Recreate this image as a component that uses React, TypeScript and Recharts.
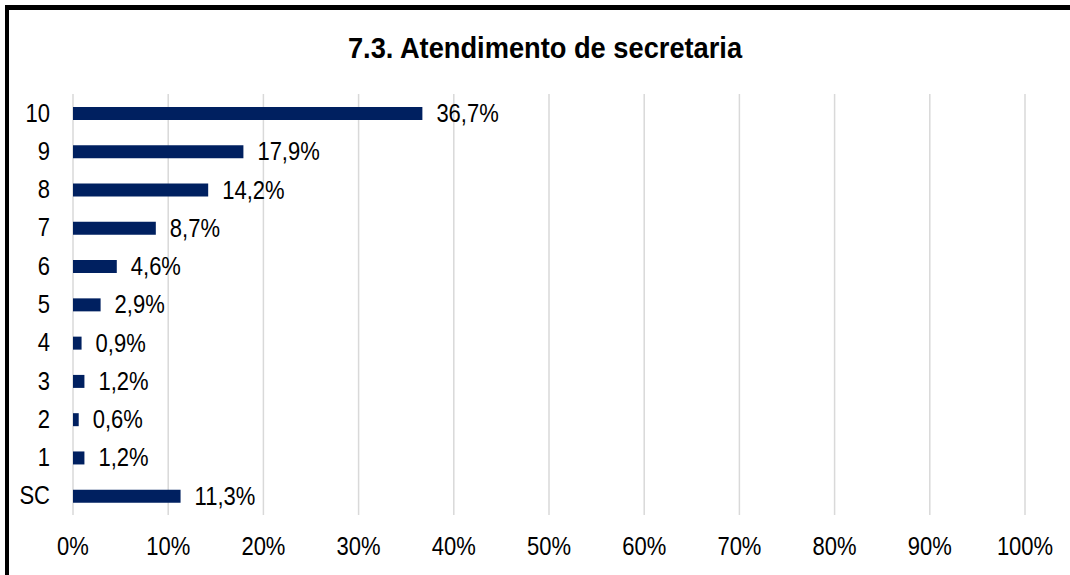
import React from 'react';
import { BarChart, Bar, XAxis, YAxis, CartesianGrid, LabelList } from 'recharts';

const categories = ['10', '9', '8', '7', '6', '5', '4', '3', '2', '1', 'SC'];
const shares = [36.7, 17.9, 14.2, 8.7, 4.6, 2.9, 0.9, 1.2, 0.6, 1.2, 11.3];
const xTicks = [0, 10, 20, 30, 40, 50, 60, 70, 80, 90, 100];

// Arial Narrow look-alike: Liberation Sans squeezed horizontally
const FONT = '"Liberation Sans", Arial, sans-serif';
const SQUEEZE = 0.88;
const NAVY = '#002060';

const data = categories.map((name, i) => ({ name, value: shares[i] }));

const fmt = (v: number) => v.toFixed(1).replace('.', ',') + '%';

const NarrowText = ({ x, y, anchor, children }: any) => (
  <text
    transform={`translate(${x},${y}) scale(${SQUEEZE},1)`}
    textAnchor={anchor}
    dominantBaseline="central"
    fontSize={25}
    fill="#000"
    fontFamily={FONT}
  >
    {children}
  </text>
);

const YTick = (props: any) => {
  const { x, y, payload } = props;
  return (
    <NarrowText x={x - 15} y={y} anchor="end">
      {payload.value}
    </NarrowText>
  );
};

const XTick = (props: any) => {
  const { x, y, payload } = props;
  return (
    <NarrowText x={x} y={y + 24} anchor="middle">
      {payload.value + '%'}
    </NarrowText>
  );
};

const BarLabel = (props: any) => {
  const { x, y, width, height, value } = props;
  return (
    <NarrowText x={x + width + 14} y={y + height / 2} anchor="start">
      {fmt(Number(value))}
    </NarrowText>
  );
};

const App: React.FC = () => {
  return (
    <div style={{ position: 'absolute', left: 0, top: 0, width: 1070, height: 575, background: '#fff', overflow: 'hidden' }}>
      <div
        style={{
          position: 'absolute',
          left: 5,
          top: 5,
          width: 1100,
          height: 600,
          borderTop: '5px solid #000',
          borderLeft: '4px solid #000',
          boxSizing: 'border-box',
        }}
      />
      <div style={{ position: 'absolute', left: 0, top: 0 }}>
        <BarChart
          width={1070}
          height={575}
          data={data}
          layout="vertical"
          margin={{ top: 94, right: 45, bottom: 20, left: 10 }}
        >
          <text
            transform="translate(545,58) scale(0.94,1)"
            textAnchor="middle"
            fontSize={29}
            fontWeight="bold"
            fill="#000"
            fontFamily={FONT}
          >
            7.3. Atendimento de secretaria
          </text>
          <CartesianGrid horizontal={false} stroke="#d9d9d9" strokeWidth={1.5} />
          <XAxis
            type="number"
            domain={[0, 100]}
            ticks={xTicks}
            axisLine={false}
            tickLine={false}
            height={40}
            tick={<XTick />}
            interval={0}
          />
          <YAxis
            type="category"
            dataKey="name"
            width={63}
            axisLine={false}
            tickLine={false}
            tick={<YTick />}
            interval={0}
          />
          <Bar dataKey="value" fill={NAVY} barSize={13} isAnimationActive={false}>
            <LabelList dataKey="value" content={<BarLabel />} />
          </Bar>
        </BarChart>
      </div>
    </div>
  );
};

export default App;
